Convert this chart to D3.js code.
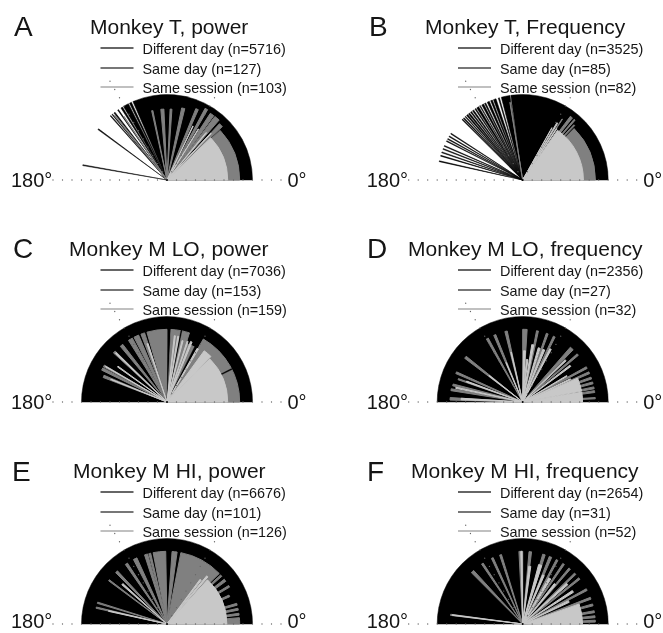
<!DOCTYPE html>
<html><head><meta charset="utf-8">
<script src="https://cdn.jsdelivr.net/npm/d3@7/dist/d3.min.js"></script>
<style>html,body{margin:0;padding:0;background:#fff}svg{display:block;filter:blur(0.4px)}text{font-family:"Liberation Sans",Arial,sans-serif;fill:#151515}</style>
</head><body><svg id="c" width="663" height="633"></svg>
<script>
// every sector: [from degree, to degree, radius as fraction of the outer circle]
const aBlack=[[0,113.5,1],[114.6,116,1],[116.8,120.6,1],[121.4,122.6,1],[124.6,125.2,1],[127.5,128.4,1],[129.6,130.1,1],[131,131.6,1],[143.2,143.9,1],[169.7,170.3,1]];
const aGray=[[0,43,.85],[44,47,.9],[49,53,.93],[54,57,.93],[60,62,.95],[66,68,.9],[76,78.5,.86],[86,87.5,.83],[92.5,95,.83],[101.5,102.5,.83],[128.7,129.2,.97],[124,124.4,.9]];
const aLight=[[0,44,.71],[46.3,47,.75],[50,50.6,.72],[58,58.6,.7],[64,64.5,.7]];
const bBlack=[[0,98,1],[98.6,104.5,1],[105.8,106.6,1],[108.2,110,1],[110.8,112,1],[113,114.5,1],[115.6,116.5,1],[117.2,118.6,1],[119.6,120.2,1],[121,122.5,1],[123.2,124,1],[125,126,1],[126.8,127.6,1],[128.4,129.4,1],[130,131,1],[131.8,132.4,1],[133.2,134,1],[134.6,135.2,1],[146.8,147.4,1],[149,149.6,1],[151,151.6,1],[152.6,153.2,1],[156.2,156.8,1],[158.4,159,1],[160.8,161.4,1],[163.2,163.8,1],[167,167.6,1]];
const bGray=[[0,45,.85],[46.3,47.2,.88],[48.8,49.7,.93],[51.3,53.2,.93],[56.8,57.2,.85],[99.1,99.4,.92]];
const bLight=[[0,55,.71],[56.3,56.7,.72],[58.3,59.2,.78],[60.6,60.9,.7]];
const cBlack=[[0,180,1]];
const cGray=[[0,60,.85],[63,72,.72],[72,78,.85],[79,87,.85],[90,106,.85],[108,111,.85],[113,117,.85],[118.5,122,.85],[127.5,130,.85],[135.5,137.5,.85],[149.5,151,.85],[152,154,.85],[157,159,.8]];
const cOverlay=[[26.5,27.5,.85],[61.5,63.5,.85],[78.2,79,.85],[87.5,89,.85]];
const cLight=[[0,45,.71],[46,54,.74],[59.3,60.7,.72],[67.3,68.7,.76],[70.8,71.7,.75],[75.3,76.2,.74],[79.8,80.7,.78],[82.8,83.7,.78],[108,109,.72],[135.8,136.7,.83],[143.8,144.7,.71],[149.8,150.2,.83],[157.8,158.2,.71]];
const dBlack=[[0,180,1]];
const dGray=[[2.5,3.5,.85],[7.5,9,.85],[10.5,12,.85],[14.5,16,.85],[18.5,20,.85],[23,24.5,.85],[27.5,29,.85],[40,41.5,.85],[46,49,.85],[63.5,65,.85],[69.5,71,.85],[77.5,79,.85],[86.5,90,.85],[102.3,104.2,.85],[111.8,113.5,.85],[118.3,120,.85],[141,143,.85],[155.5,157,.85],[160,161,.8],[165.5,167,.84],[169.5,171,.85],[176.5,178.5,.85]];
const dLight=[[0,9.5,.7],[10.5,23.5,.7],[25,26,.62],[30,31,.6],[36.5,38,.7],[43.5,45,.7],[61.5,63,.7],[67,69,.66],[72,74,.66],[79,81,.68],[83,85,.5],[87,89,.6],[102.8,103.4,.6],[112.5,113,.5],[141.5,142.5,.5],[159.5,160.5,.7],[167.5,168.5,.8],[176.5,178,.72]];
const eBlack=[[0,180,1]];
const eGray=[[0,5,.85],[7,8.5,.85],[11,12.5,.85],[15,16.5,.85],[23.5,25,.8],[30.5,32,.85],[36,38,.85],[41,42.5,.85],[44,79,.85],[82,86,.85],[91,101,.85],[103,104.5,.85],[105.5,108,.85],[114.5,117.5,.85],[123,125,.85],[133,135,.85],[142.5,143.5,.85],[162.5,163.5,.85],[166.5,167.5,.85]];
const eLight=[[0,47.5,.7],[49,50.5,.73],[52,53.5,.65],[137.5,139,.7],[167,167.8,.7]];
const fBlack=[[0,180,1]];
const fGray=[[1.5,3,.85],[5,6.5,.85],[9,10.5,.85],[14.5,16,.85],[20,21.5,.85],[27.5,29,.85],[38,39.5,.85],[43,44.5,.85],[49,50.5,.85],[55,56.5,.85],[61,62.5,.85],[66.5,68.5,.85],[72,74,.85],[83,85,.85],[90,93,.85],[107,108.5,.85],[114,115.5,.85],[123,124.5,.85],[132.5,135,.85],[172.3,173.2,.85]];
const fLight=[[0,19.5,.7],[25,27,.6],[32,34,.7],[41,43,.7],[50,52,.6],[58,60.5,.62],[66,68,.62],[72,75,.72],[82,84,.68],[90.5,91.5,.85],[172.5,173,.83]];
const panelLetters=["A","B","C","D","E","F"];
const panelTitles=["Monkey T, power","Monkey T, Frequency","Monkey M LO, power","Monkey M LO, frequency","Monkey M HI, power","Monkey M HI, frequency"];
const diffN=[5716,3525,7036,2356,6676,2654];
const sameDayN=[127,85,153,27,101,31];
const sameSessionN=[103,82,159,32,126,52];
const blackSets=[aBlack,bBlack,cBlack,dBlack,eBlack,fBlack];
const graySets=[aGray,bGray,cGray,dGray,eGray,fGray];
const lightSets=[aLight,bLight,cLight,dLight,eLight,fLight];
const overlaySets=[[],[],cOverlay,[],[],[]];
const gridAngles=[0,60,120,180];
const gridSteps=[1,2,3,4,5,6,7,8,9,10,11,12];

const svg=d3.select("#c");
const cols=[167,522.7], rowY=[180,402,624];
const titleX=[90,425,69,408,73,411], letterX=[14,369,13,367,12,367];
const r=d3.scaleLinear().domain([0,1]).range([0,85.5]);
const ang=d3.scaleLinear().domain([0,180]).range([Math.PI/2,-Math.PI/2]);
const arc=d3.arc().innerRadius(0).outerRadius(d=>r(d[2])).startAngle(d=>ang(d[1])).endAngle(d=>ang(d[0]));
const BLK="#000",GRY="#808080",LGT="#c8c8c8";
const gridR=d3.scaleLinear().domain([0,1]).range([0,9.5]);

panelLetters.forEach((L,i)=>{
  const cx=cols[i%2], row=Math.floor(i/2), cy=rowY[row];
  const g=svg.append("g").attr("transform",`translate(${cx},${cy})`);
  [[blackSets[i],BLK,.5],[graySets[i],GRY,1],[overlaySets[i],BLK,.3],[lightSets[i],LGT,1]].forEach(([set,col,sw])=>{
    g.append("g").selectAll("path").data(set).join("path").attr("d",arc).attr("fill",col).attr("stroke",col).attr("stroke-width",sw);
  });
  gridAngles.forEach(a=>{
    g.append("g").selectAll("circle").data(gridSteps).join("circle")
     .attr("cx",s=>gridR(s)*Math.cos(a*Math.PI/180)).attr("cy",s=>-gridR(s)*Math.sin(a*Math.PI/180))
     .attr("r",.65).attr("fill","#666");
  });
  g.append("circle").attr("r",1).attr("fill","#000");
  g.append("rect").attr("x",-45).attr("y",-150).attr("width",160).attr("height",64).attr("fill","#fff");
  const lx=cx+(i%2? -64.7:-66.5);
  const tops=[48,68,87];
  const labels=[`Different day (n=${diffN[i]})`,`Same day (n=${sameDayN[i]})`,`Same session (n=${sameSessionN[i]})`];
  const cols3=["#333","#777","#c0c0c0"];
  labels.forEach((t,k)=>{
    const y=tops[k]+row*222;
    svg.append("line").attr("x1",lx).attr("x2",lx+33).attr("y1",y).attr("y2",y).attr("stroke",cols3[k]).attr("stroke-width",k?1.8:1.5);
    svg.append("text").attr("x",lx+42).attr("y",y+5.5).attr("font-size",14.4).text(t);
  });
  svg.append("text").attr("x",titleX[i]).attr("y",34+row*222).attr("font-size",21).text(panelTitles[i]);
  svg.append("text").attr("x",letterX[i]).attr("y",36+row*222+(row==2?1:0)).attr("font-size",28).text(L);
  const labelY=row==2?cy+4:cy+7;
  svg.append("text").attr("x",cx-156).attr("y",labelY).attr("font-size",20).text("180°");
  svg.append("text").attr("x",cx+120.5).attr("y",labelY).attr("font-size",20).text("0°");
});
</script></body></html>
